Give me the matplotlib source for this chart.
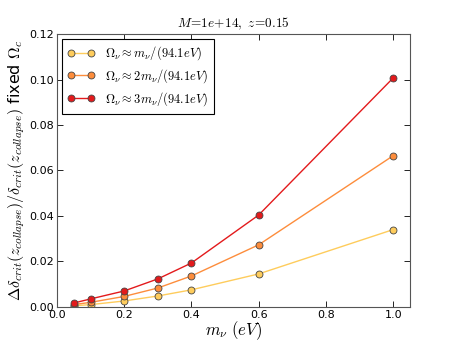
import numpy as np
import matplotlib
matplotlib.use('Agg')
import matplotlib.pyplot as plt

plt.rcParams['mathtext.fontset'] = 'cm'

# Data
m_nu = [0.05, 0.1, 0.2, 0.3, 0.4, 0.6, 1.0]
delta_1x = [0.0005, 0.0010, 0.0026, 0.0048, 0.0075, 0.0145, 0.0340]
delta_2x = [0.0010, 0.0020, 0.0046, 0.0083, 0.0136, 0.0273, 0.0665]
delta_3x = [0.0017, 0.0035, 0.0070, 0.0123, 0.0193, 0.0404, 0.1007]
labels = [r'$\Omega_\nu \approx m_\nu/(94.1eV)$',
          r'$\Omega_\nu \approx 2m_\nu/(94.1eV)$',
          r'$\Omega_\nu \approx 3m_\nu/(94.1eV)$']

colors = ['#fecc5c', '#fd8d3c', '#e31a1c']

fig = plt.figure(figsize=(4.55, 3.41), dpi=100)
ax = fig.add_axes([0.125, 0.1, 0.776, 0.8])

for ys, lab, c in zip([delta_1x, delta_2x, delta_3x], labels, colors):
    ax.plot(m_nu, ys, '-o', color=c, markerfacecolor=c, markeredgecolor='#444444',
            markeredgewidth=0.6, markersize=5, linewidth=1, label=lab)

ax.set_xlim(0, 1.05)
ax.set_ylim(0, 0.12)
ax.set_xticks(np.arange(0, 1.01, 0.2))
ax.set_yticks(np.arange(0, 0.121, 0.02))
ax.xaxis.set_major_formatter(matplotlib.ticker.FormatStrFormatter('%.1f'))
ax.yaxis.set_major_formatter(matplotlib.ticker.FormatStrFormatter('%.2f'))
ax.tick_params(direction='in', top=True, right=True, labelsize=8, length=4, width=0.6, pad=2)
for s in ax.spines.values():
    s.set_color('#555555')

ax.set_xlabel(r'$m_\nu\ (eV)$', fontsize=12, labelpad=0)
ax.set_ylabel(r'$\Delta\delta_{crit}(z_{collapse})/\delta_{crit}(z_{collapse})$ fixed $\Omega_c$',
              fontsize=11.5, labelpad=2)
ax.set_title(r'$M\!=\!1e\!+\!14,\ z\!=\!0.15$', fontsize=9.5, pad=5)

leg = ax.legend(loc='upper left', numpoints=2, fontsize=9, fancybox=False,
                edgecolor='black', framealpha=1, handlelength=2.2, borderpad=0.45,
                labelspacing=0.4, borderaxespad=0.4)
leg.get_frame().set_linewidth(0.8)

fig.savefig('out.png', dpi=100)
